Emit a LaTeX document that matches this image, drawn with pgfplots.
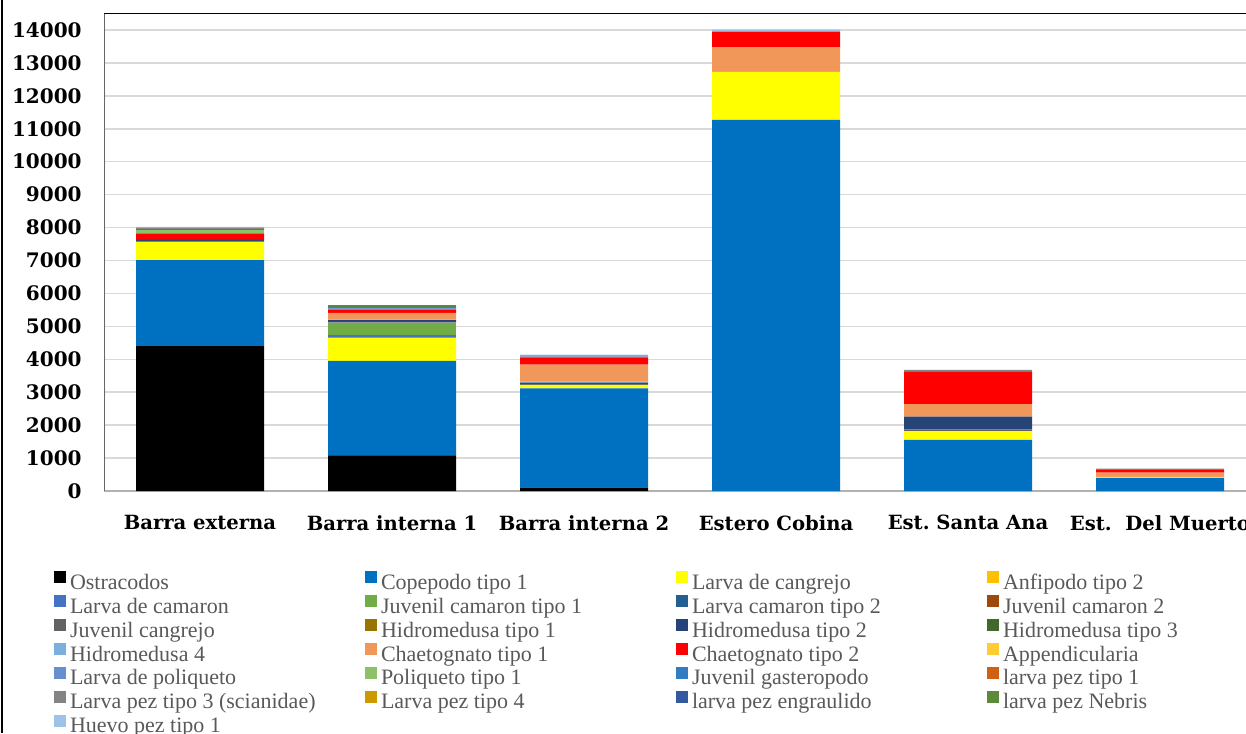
\documentclass[border=0pt]{standalone}
\usepackage{fontspec}
\setmainfont{Liberation Serif}
\newfontfamily\dvserif{DejaVu Serif}
\usepackage{pgfplots}
\pgfplotsset{compat=1.18}

% series colours
\definecolor{cOst}{HTML}{000000}
\definecolor{cCop}{HTML}{0070C0}
\definecolor{cLcg}{HTML}{FFFF00}
\definecolor{cAnf}{HTML}{FFC000}
\definecolor{cLcm}{HTML}{4472C4}
\definecolor{cJc1}{HTML}{70AD47}
\definecolor{cLc2}{HTML}{255E91}
\definecolor{cJc2}{HTML}{9E480E}
\definecolor{cJcg}{HTML}{636363}
\definecolor{cHm1}{HTML}{997300}
\definecolor{cHm2}{HTML}{264478}
\definecolor{cHm3}{HTML}{43682B}
\definecolor{cHm4}{HTML}{7CAFDD}
\definecolor{cCh1}{HTML}{F1975A}
\definecolor{cCh2}{HTML}{FF0000}
\definecolor{cApp}{HTML}{FFCD33}
\definecolor{cLpo}{HTML}{698ED0}
\definecolor{cPo1}{HTML}{8CC168}
\definecolor{cJga}{HTML}{327DC2}
\definecolor{cLp1}{HTML}{D26012}
\definecolor{cLp3}{HTML}{848484}
\definecolor{cLp4}{HTML}{CC9A00}
\definecolor{cEng}{HTML}{335AA1}
\definecolor{cNeb}{HTML}{5A8A3A}
\definecolor{cHue}{HTML}{9DC3E6}
\definecolor{gridgray}{HTML}{D9D9D9}
\definecolor{legtext}{HTML}{595959}

\newcommand\lgd[1]{\makebox[147.5pt][l]{#1}}

\begin{document}
\begin{tikzpicture}
\begin{axis}[
  at={(52pt,-245.5pt)}, anchor=south west,
  scale only axis, width=576pt, height=239pt,
  ybar stacked, bar width=64pt,
  xmin=-0.5, xmax=5.5, ymin=0, ymax=14516,
  enlargelimits=false,
  axis x line=bottom, axis y line=left,
  axis line style={draw=none},
  major tick length=0pt,
  xtick={0,...,5},
  xticklabels={Barra externa, Barra interna 1, Barra interna 2, Estero Cobina, Est.\ Santa Ana, Est.\ \ Del Muerto},
  xtick style={draw=none}, ytick style={draw=none},
  x tick label style={font=\dvserif\bfseries\fontsize{9.8pt}{11pt}\selectfont, anchor=north, inner sep=0pt, yshift=-12pt},
  ytick={0,1000,...,14000},
  scaled y ticks=false,
  /pgf/number format/assume math mode=true,
  /pgf/number format/1000 sep={},
  y tick label style={font=\dvserif\bfseries\fontsize{10pt}{12pt}\selectfont, anchor=east, inner sep=0pt, xshift=-11pt},
  ymajorgrids, grid style={gridgray, line width=0.75pt},
  every axis plot/.append style={draw=none},
  legend columns=4,
  legend cell align=left,
  legend style={at={(-0.0434,-0.168)}, anchor=north west, draw=none, fill=none,
    inner sep=0pt, outer sep=0pt, row sep=0pt,
    font=\fontsize{11pt}{11.25pt}\selectfont, text=legtext,
    nodes={inner sep=0pt, text height=8.1pt, text depth=3.05pt},
    /tikz/every odd column/.style={column sep=2pt}},
  legend image code/.code={\fill[#1] (0pt,0.4pt) rectangle (6pt,6.4pt);},
]
% Barra externa, Barra interna 1, Barra interna 2, Estero Cobina, Est. Santa Ana, Est. Del Muerto
\addplot[fill=cOst] coordinates {(0,4400) (1,1080) (2,100) (3,0) (4,0) (5,0)};
\addlegendentry{\lgd{Ostracodos}}
\addplot[fill=cCop] coordinates {(0,2610) (1,2870) (2,3020) (3,11270) (4,1550) (5,400)};
\addlegendentry{\lgd{Copepodo tipo 1}}
\addplot[fill=cLcg] coordinates {(0,550) (1,705) (2,100) (3,1460) (4,270) (5,30)};
\addlegendentry{\lgd{Larva de cangrejo}}
\addplot[fill=cAnf] coordinates {(0,0) (1,0) (2,0) (3,0) (4,0) (5,0)};
\addlegendentry{\lgd{Anfipodo tipo 2}}
\addplot[fill=cLcm] coordinates {(0,0) (1,80) (2,0) (3,0) (4,0) (5,0)};
\addlegendentry{\lgd{Larva de camaron}}
\addplot[fill=cJc1] coordinates {(0,0) (1,375) (2,0) (3,0) (4,0) (5,0)};
\addlegendentry{\lgd{Juvenil camaron tipo 1}}
\addplot[fill=cLc2] coordinates {(0,0) (1,0) (2,0) (3,0) (4,0) (5,0)};
\addlegendentry{\lgd{Larva camaron tipo 2}}
\addplot[fill=cJc2] coordinates {(0,0) (1,0) (2,0) (3,0) (4,0) (5,0)};
\addlegendentry{\lgd{Juvenil camaron 2}}
\addplot[fill=cJcg] coordinates {(0,20) (1,30) (2,30) (3,0) (4,50) (5,0)};
\addlegendentry{\lgd{Juvenil cangrejo}}
\addplot[fill=cHm1] coordinates {(0,0) (1,0) (2,0) (3,0) (4,0) (5,0)};
\addlegendentry{\lgd{Hidromedusa tipo 1}}
\addplot[fill=cHm2] coordinates {(0,50) (1,50) (2,40) (3,0) (4,390) (5,0)};
\addlegendentry{\lgd{Hidromedusa tipo 2}}
\addplot[fill=cHm3] coordinates {(0,0) (1,0) (2,0) (3,0) (4,0) (5,0)};
\addlegendentry{\lgd{Hidromedusa tipo 3}}
\addplot[fill=cHm4] coordinates {(0,0) (1,20) (2,40) (3,0) (4,0) (5,0)};
\addlegendentry{\lgd{Hidromedusa 4}}
\addplot[fill=cCh1] coordinates {(0,0) (1,200) (2,510) (3,750) (4,380) (5,130)};
\addlegendentry{\lgd{Chaetognato tipo 1}}
\addplot[fill=cCh2] coordinates {(0,170) (1,80) (2,200) (3,470) (4,980) (5,80)};
\addlegendentry{\lgd{Chaetognato tipo 2}}
\addplot[fill=cApp] coordinates {(0,0) (1,0) (2,0) (3,0) (4,0) (5,0)};
\addlegendentry{\lgd{Appendicularia}}
\addplot[fill=cLpo] coordinates {(0,30) (1,50) (2,40) (3,0) (4,0) (5,0)};
\addlegendentry{\lgd{Larva de poliqueto}}
\addplot[fill=cPo1] coordinates {(0,90) (1,0) (2,0) (3,0) (4,0) (5,0)};
\addlegendentry{\lgd{Poliqueto tipo 1}}
\addplot[fill=cJga] coordinates {(0,30) (1,50) (2,0) (3,0) (4,0) (5,0)};
\addlegendentry{\lgd{Juvenil gasteropodo}}
\addplot[fill=cLp1] coordinates {(0,0) (1,0) (2,0) (3,0) (4,0) (5,0)};
\addlegendentry{\lgd{larva pez tipo 1}}
\addplot[fill=cLp3] coordinates {(0,50) (1,0) (2,40) (3,0) (4,60) (5,40)};
\addlegendentry{\lgd{Larva pez tipo 3 (scianidae)}}
\addplot[fill=cLp4] coordinates {(0,0) (1,0) (2,0) (3,0) (4,0) (5,0)};
\addlegendentry{\lgd{Larva pez tipo 4}}
\addplot[fill=cEng] coordinates {(0,0) (1,0) (2,0) (3,0) (4,0) (5,0)};
\addlegendentry{\lgd{larva pez engraulido}}
\addplot[fill=cNeb] coordinates {(0,0) (1,50) (2,0) (3,0) (4,0) (5,0)};
\addlegendentry{\lgd{larva pez Nebris}}
\addplot[fill=cHue] coordinates {(0,20) (1,0) (2,20) (3,60) (4,0) (5,0)};
\addlegendentry{\lgd{Huevo pez tipo 1}}
% plot area frame
\draw[black, line width=1pt] (rel axis cs:0,1) -- (rel axis cs:1,1);
\draw[black!60, line width=0.6pt] (rel axis cs:0,0) -- (rel axis cs:0,1);
\draw[black!30, line width=1pt] (rel axis cs:0,0) -- (rel axis cs:1,0);
\end{axis}
% chart area border
\draw[black, line width=1.4pt] (1pt,0pt) -- (1pt,-366.5pt);
\pgfresetboundingbox
\path[use as bounding box] (0pt,0pt) rectangle (623pt,-366.5pt);
\end{tikzpicture}
\end{document}
